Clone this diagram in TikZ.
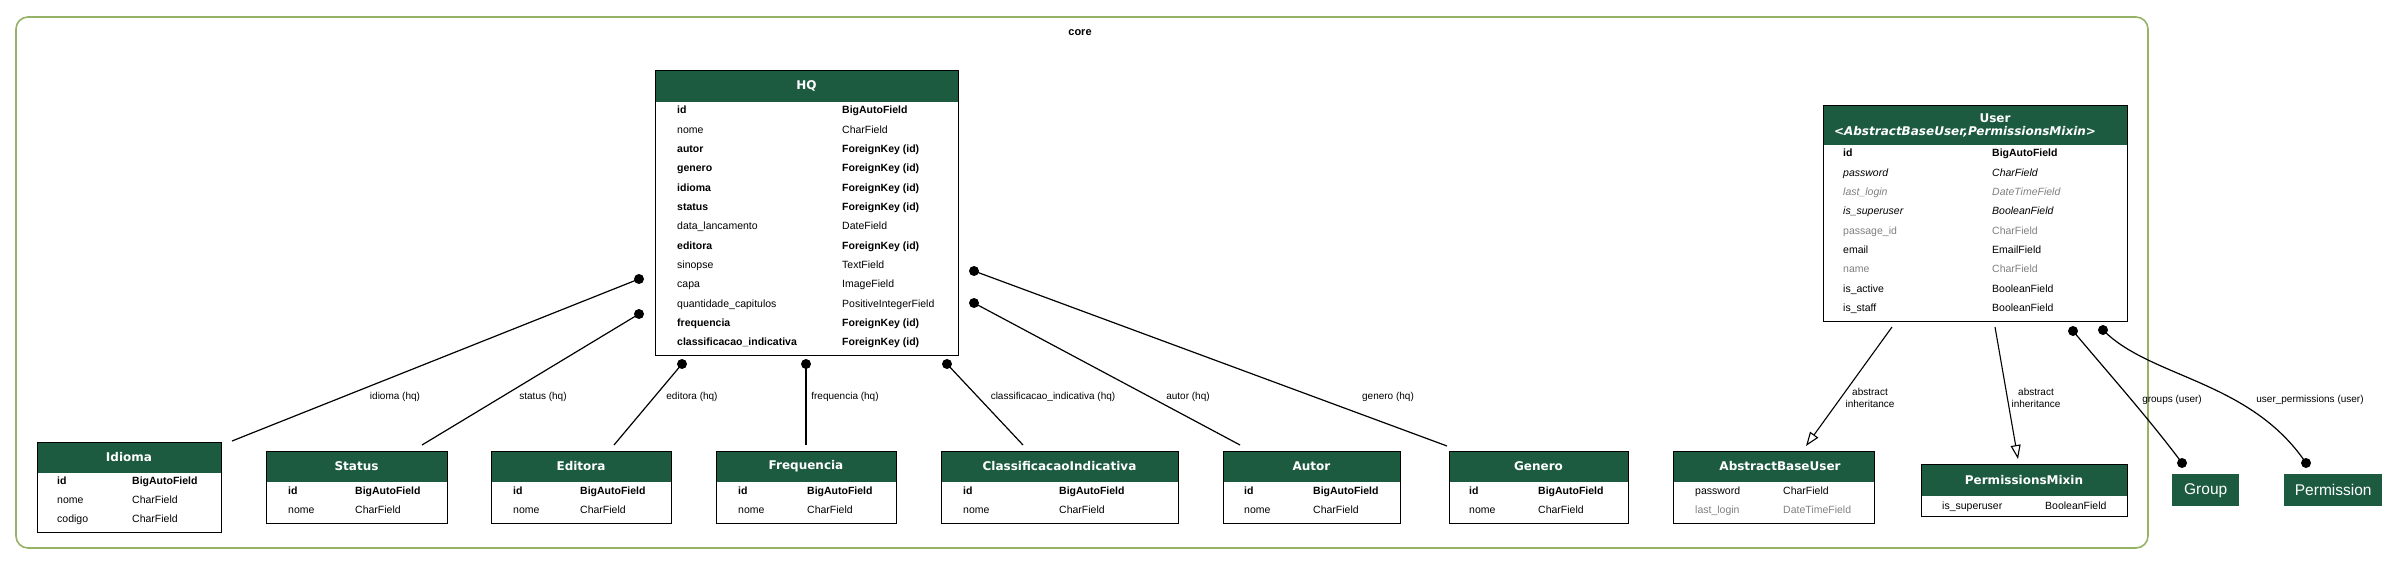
\documentclass[tikz,border=0pt]{standalone}
\usepackage{fontspec}
\setmainfont{Liberation Sans}
\newfontfamily\ttlfont{DejaVu Sans}
\usetikzlibrary{arrows.meta}
\definecolor{hdr}{HTML}{1D5B41}
\definecolor{clus}{HTML}{96B266}
\definecolor{fgray}{HTML}{808080}
\tikzset{
  tblbox/.style={draw=black, line width=1.4pt, inner sep=0pt, anchor=north west},
  hdrfill/.style={fill=hdr},
  ttl/.style={text=white, inner sep=0pt, font=\ttlfont\bfseries\fontsize{12}{14}\selectfont},
  fld/.style={anchor=base west, inner sep=0pt, font=\fontsize{10.5}{12}\selectfont},
  elabel/.style={inner sep=0pt, font=\fontsize{10}{12}\selectfont, align=center},
  fkdot/.style={circle, fill=black, minimum size=10pt, inner sep=0pt},
  edge/.style={line width=1.2pt},
  inh/.style={line width=1.1pt, -{Triangle[open, length=14pt, width=10pt, line width=1.1pt]}},
  extbox/.style={fill=hdr, text=white, inner sep=0pt, font=\fontsize{15.5}{17}\selectfont},
  cluster/.style={draw=clus, line width=1.6pt, rounded corners=12pt},
}
\newcommand\ertable[6]{%
  \fill[hdrfill] (#2,#3) rectangle ++(#4,#6);
  \node[tblbox, minimum width=#4pt, minimum height=#5pt] (#1) at (#2,#3) {};
}
\newcommand\ertfields[5]{%
  \foreach \lt/\rt [count=\i] in {#5} {
    \node[fld] (#1-l\i) at (#2, #4+19.33*\i-19.33) {\lt};
    \node[fld] (#1-r\i) at (#3, #4+19.33*\i-19.33) {\rt};
  }%
}
\begin{document}
\begin{tikzpicture}[x=1pt,y=-1pt]
\useasboundingbox (0,0) rectangle (2399,564);
\fill[white] (0,0) rectangle (2399,564);

% cluster
\draw[cluster] (16,17) rectangle (2148,548);
\node[font=\bfseries\fontsize{11}{13}\selectfont, inner sep=0pt] (core) at (1080,33) {core};

% HQ
\ertable{hq}{655}{70}{303}{285}{32}
\node[ttl] (hq-t) at (806.5,86) {HQ};
\ertfields{hq}{677}{842}{114}{%
{\bfseries id}/{\bfseries BigAutoField},
nome/CharField,
{\bfseries autor}/{\bfseries ForeignKey (id)},
{\bfseries genero}/{\bfseries ForeignKey (id)},
{\bfseries idioma}/{\bfseries ForeignKey (id)},
{\bfseries status}/{\bfseries ForeignKey (id)},
data\_lancamento/DateField,
{\bfseries editora}/{\bfseries ForeignKey (id)},
sinopse/TextField,
capa/ImageField,
quantidade\_capitulos/PositiveIntegerField,
{\bfseries frequencia}/{\bfseries ForeignKey (id)},
{\bfseries classificacao\_indicativa}/{\bfseries ForeignKey (id)}}

% User
\ertable{user}{1823}{105}{304}{216}{40}
\node[ttl] (user-t1) at (1995,118) {User};
\node[ttl, font=\ttlfont\bfseries\itshape\fontsize{12}{14}\selectfont] (user-t2) at (1965,132) {<AbstractBaseUser,PermissionsMixin>};
\ertfields{user}{1843}{1992}{157}{%
{\bfseries id}/{\bfseries BigAutoField},
{\itshape password}/{\itshape CharField},
{\color{fgray}\itshape last\_login}/{\color{fgray}\itshape DateTimeField},
{\itshape is\_superuser}/{\itshape BooleanField},
{\color{fgray}passage\_id}/{\color{fgray}CharField},
email/EmailField,
{\color{fgray}name}/{\color{fgray}CharField},
is\_active/BooleanField,
is\_staff/BooleanField}

% Idioma
\ertable{idioma}{37}{442}{184}{90}{31}
\node[ttl] (idioma-t) at (129,457) {Idioma};
\ertfields{idioma}{57}{132}{484}{{\bfseries id}/{\bfseries BigAutoField}, nome/CharField, codigo/CharField}

% Status
\ertable{status}{266}{451}{181}{72}{31}
\node[ttl] (status-t) at (356.5,466) {Status};
\ertfields{status}{288}{355}{494}{{\bfseries id}/{\bfseries BigAutoField}, nome/CharField}

% Editora
\ertable{editora}{491}{451}{180}{72}{31}
\node[ttl] (editora-t) at (581,466) {Editora};
\ertfields{editora}{513}{580}{494}{{\bfseries id}/{\bfseries BigAutoField}, nome/CharField}

% Frequencia
\ertable{freq}{716}{451}{180}{72}{31}
\node[ttl] (freq-t) at (806,466) {Frequencia};
\ertfields{freq}{738}{807}{494}{{\bfseries id}/{\bfseries BigAutoField}, nome/CharField}

% ClassificacaoIndicativa
\ertable{classif}{941}{451}{237}{72}{31}
\node[ttl] (classif-t) at (1059.5,466) {ClassificacaoIndicativa};
\ertfields{classif}{963}{1059}{494}{{\bfseries id}/{\bfseries BigAutoField}, nome/CharField}

% Autor
\ertable{autor}{1223}{451}{177}{72}{31}
\node[ttl] (autor-t) at (1311.5,466) {Autor};
\ertfields{autor}{1244}{1313}{494}{{\bfseries id}/{\bfseries BigAutoField}, nome/CharField}

% Genero
\ertable{genero}{1449}{451}{179}{72}{31}
\node[ttl] (genero-t) at (1538.5,466) {Genero};
\ertfields{genero}{1469}{1538}{494}{{\bfseries id}/{\bfseries BigAutoField}, nome/CharField}

% AbstractBaseUser
\ertable{abu}{1673}{451}{201}{72}{31}
\node[ttl] (abu-t) at (1780,466) {AbstractBaseUser};
\ertfields{abu}{1695}{1783}{494}{password/CharField, {\color{fgray}last\_login}/{\color{fgray}DateTimeField}}

% PermissionsMixin
\ertable{pm}{1921}{464}{206}{52}{32}
\node[ttl] (pm-t) at (2024,480) {PermissionsMixin};
\ertfields{pm}{1942}{2045}{509}{is\_superuser/BooleanField}

% external models
\node[extbox, minimum width=67pt, minimum height=32pt, anchor=north west] (group) at (2172,474) {Group};
\node[extbox, minimum width=98pt, minimum height=32pt, anchor=north west] (perm) at (2284,474) {Permission};

% FK connectors from HQ
\node[fkdot] (d-idioma) at (639,279) {};
\node[fkdot] (d-status) at (639,314) {};
\node[fkdot] (d-editora) at (682,364) {};
\node[fkdot] (d-freq) at (806,364) {};
\node[fkdot] (d-classif) at (947,364) {};
\node[fkdot] (d-autor) at (974,303) {};
\node[fkdot] (d-genero) at (974,271) {};
\coordinate (e-idioma) at (232,441);
\coordinate (e-status) at (422,445);
\coordinate (e-editora) at (614,445);
\coordinate (e-freq) at (806,445);
\coordinate (e-classif) at (1023,445);
\coordinate (e-autor) at (1240,445);
\coordinate (e-genero) at (1447,446);
\draw[edge] (d-idioma.center) -- (e-idioma);
\draw[edge] (d-status.center) -- (e-status);
\draw[edge] (d-editora.center) -- (e-editora);
\draw[edge] (d-freq.center) -- (e-freq);
\draw[edge] (d-classif.center) -- (e-classif);
\draw[edge] (d-autor.center) -- (e-autor);
\draw[edge] (d-genero.center) -- (e-genero);
\node[elabel] (l-idioma) at (395,397) {idioma (hq)};
\node[elabel] (l-status) at (543,397) {status (hq)};
\node[elabel] (l-editora) at (692,397) {editora (hq)};
\node[elabel] (l-freq) at (845,397) {frequencia (hq)};
\node[elabel] (l-classif) at (1053,397) {classificacao\_indicativa (hq)};
\node[elabel] (l-autor) at (1188,397) {autor (hq)};
\node[elabel] (l-genero) at (1388,397) {genero (hq)};

% inheritance
\coordinate (s-abu) at (1892,327);
\coordinate (t-abu) at (1806,446);
\coordinate (s-pm) at (1995,327);
\coordinate (t-pm) at (2018,459);
\draw[inh] (s-abu) -- (t-abu);
\draw[inh] (s-pm) -- (t-pm);
\node[elabel] (l-inh1) at (1870,398) {abstract\\inheritance};
\node[elabel] (l-inh2) at (2036,398) {abstract\\inheritance};

% many-to-many
\node[fkdot] (d-g1) at (2073,331) {};
\node[fkdot] (d-g2) at (2182,463) {};
\node[fkdot] (d-p1) at (2103,330) {};
\node[fkdot] (d-p2) at (2306,463) {};
\draw[edge] (d-g1.center) .. controls (2110,375) and (2150,420) .. (d-g2.center);
\draw[edge] (d-p1.center) .. controls (2150,378) and (2250,380) .. (d-p2.center);
\node[elabel] (l-groups) at (2172,400) {groups (user)};
\node[elabel] (l-perms) at (2310,400) {user\_permissions (user)};
\end{tikzpicture}
\end{document}
